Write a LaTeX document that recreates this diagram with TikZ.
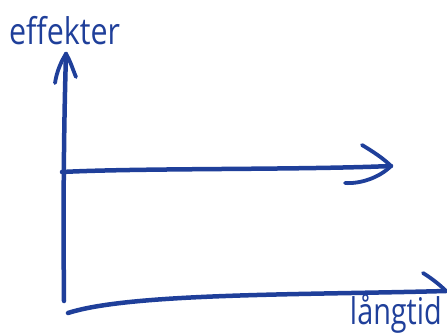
\documentclass[tikz,border=0pt]{standalone}
\usepackage{fontspec}
\setmainfont{Open Sans}
\definecolor{PenBlue}{HTML}{1F3F9A}
\tikzset{
  axisline/.style={draw=PenBlue, line width=4.5pt, line cap=round, line join=round},
  wingline/.style={draw=PenBlue, line width=3.8pt, line cap=round},
  axislbl/.style={text=PenBlue, inner sep=0pt, font=\fontsize{32}{36}\selectfont},
}
\begin{document}
\begin{tikzpicture}[x=1pt, y=-1pt]
  \useasboundingbox (0,0) rectangle (447,334);
  %% labels
  \node[axislbl, anchor=north west, xscale=0.95, yscale=1.15] (eff) at (9,16) {effekter};
  \node[axislbl, anchor=north east, xscale=0.9, yscale=1.15] (lang) at (442,294) {långtid};
  %% vertical axis
  \coordinate (ybot) at (64,301);
  \coordinate (ytop) at (66,54);
  \draw[axisline] (ybot) .. controls (63,200) and (64,120) .. (ytop);
  \draw[wingline] (55,83) .. controls (57,70) and (62,60) .. (ytop);
  \draw[wingline] (ytop) .. controls (70,60) and (73,70) .. (76,77);
  %% middle arrow
  \coordinate (mbeg) at (62,172);
  \coordinate (mend) at (391,166);
  \draw[axisline] (mbeg) .. controls (140,168) and (300,170) .. (mend);
  \draw[wingline] (362,145) .. controls (372,151) and (383,158) .. (mend);
  \draw[wingline] (mend) .. controls (379,178) and (360,184) .. (345,183);
  %% bottom axis
  \coordinate (bbeg) at (68,313);
  \coordinate (bend) at (446,291);
  \draw[axisline] (bbeg) .. controls (130,293) and (300,295) .. (bend);
  \draw[wingline] (423,273) .. controls (431,278) and (439,284) .. (bend);
\end{tikzpicture}
\end{document}
